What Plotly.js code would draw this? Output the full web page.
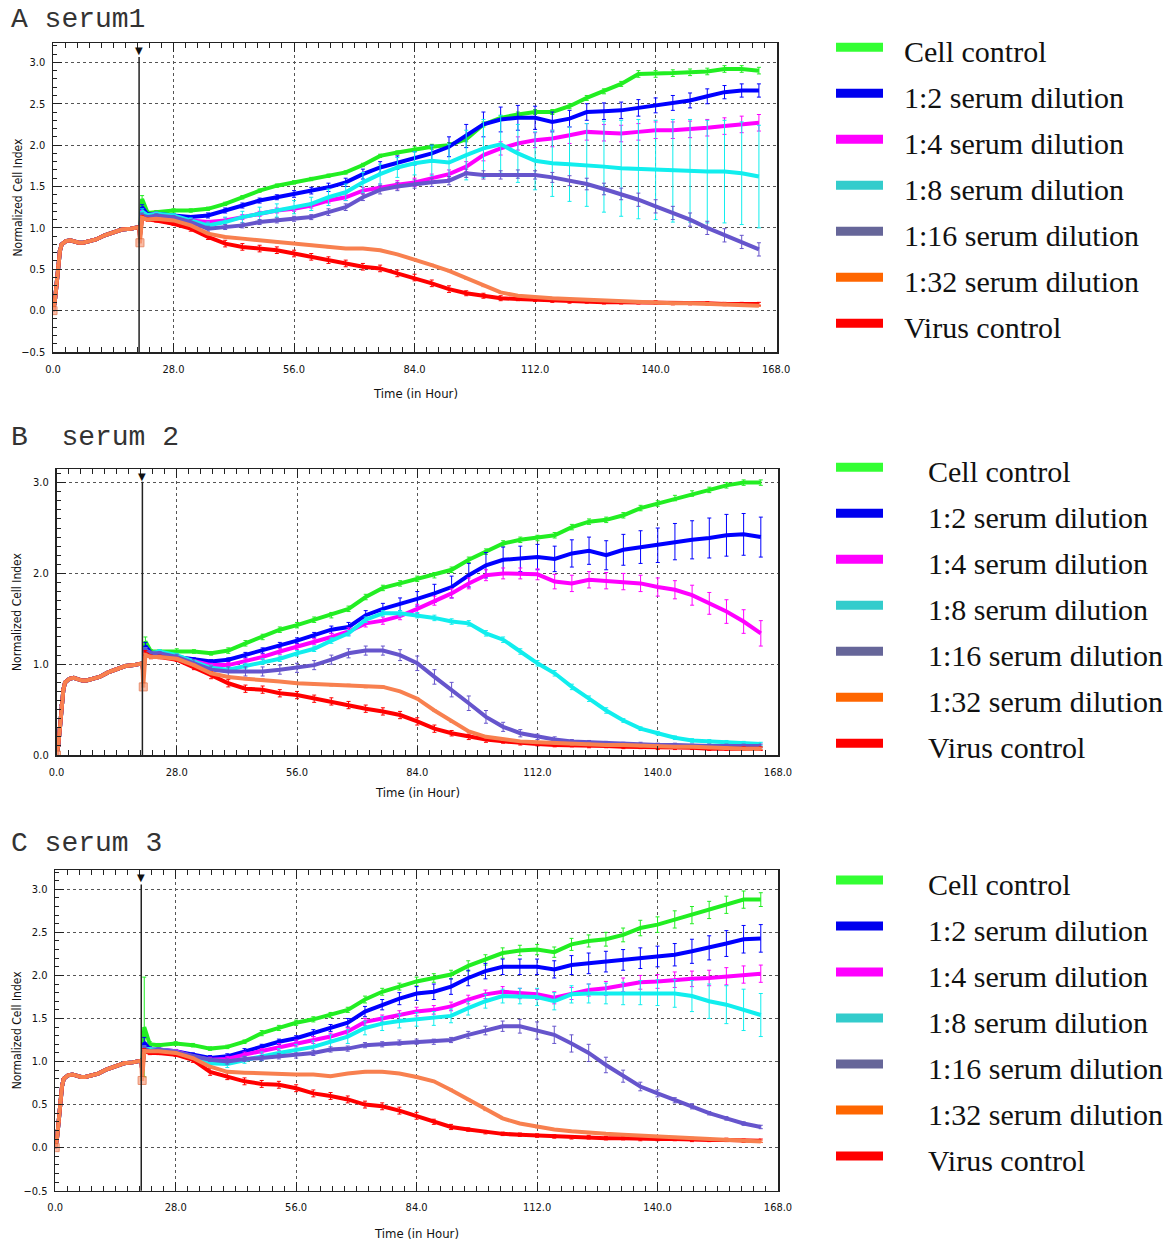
<!DOCTYPE html>
<html><head><meta charset="utf-8">
<script src="https://cdn.plot.ly/plotly-3.0.1.min.js"></script>
<style>html,body{margin:0;padding:0;background:#fff;}#chart{width:1171px;height:1242px;}</style>
</head><body><div id="chart"></div>
<script>
// ---------- DATA ----------
const SERIES = ["Cell control","1:2 serum dilution","1:4 serum dilution","1:8 serum dilution","1:16 serum dilution","1:32 serum dilution","Virus control"];
const PANEL_TITLES = ["A serum1","B\u00a0 serum 2","C serum 3"];
const X_TICKS = [0, 28, 56, 84, 112, 140, 168];
const TREATMENT_TIME = 20;

// shared pre-treatment curve (all wells overlap before 20 h)
const BASE_T = [0, 0.4, 0.8, 1.2, 1.6, 2.0, 3.0, 4.0, 5.0, 6.0, 7.0, 8.0, 10.0, 12.0, 14.0, 16.0, 18.0, 20.0];
const BASE_Y = [0.00, 0.10, 0.30, 0.55, 0.72, 0.80, 0.84, 0.85, 0.83, 0.82, 0.82, 0.83, 0.86, 0.91, 0.95, 0.98, 0.99, 1.01];

// post-treatment time points (h)
const POST_T = [20.2, 20.7, 22,
  24, 28, 32, 36, 40, 44, 48, 52, 56, 60, 64, 68, 72, 76, 80, 84, 88, 92,
  96, 100, 104, 108, 112, 116, 120, 124, 128, 132, 136, 140, 144, 148, 152, 156, 160, 164];

// ---- Panel A (serum 1) ----
const A_CELL  = [0.95,1.35,1.18, 1.19,1.21,1.21,1.23,1.29,1.37,1.45,1.51,1.55,1.59,1.63,1.67,1.76,1.87,1.91,1.95,1.98,2.00, 2.07,2.25,2.33,2.37,2.40,2.40,2.47,2.57,2.65,2.74,2.86,2.86,2.87,2.88,2.89,2.92,2.92,2.90];
const A_D2    = [0.95,1.25,1.16, 1.17,1.15,1.13,1.15,1.21,1.27,1.33,1.37,1.41,1.45,1.49,1.55,1.65,1.73,1.79,1.84,1.90,1.98, 2.11,2.25,2.31,2.33,2.33,2.28,2.32,2.40,2.41,2.42,2.45,2.48,2.51,2.54,2.59,2.64,2.66,2.66];
const A_D4    = [0.92,1.18,1.15, 1.17,1.13,1.09,1.07,1.09,1.13,1.17,1.21,1.23,1.27,1.33,1.37,1.45,1.49,1.52,1.55,1.60,1.65, 1.74,1.88,1.96,2.02,2.06,2.08,2.12,2.16,2.15,2.14,2.16,2.18,2.18,2.19,2.21,2.23,2.25,2.27];
const A_D8    = [0.92,1.20,1.15, 1.17,1.15,1.09,1.03,1.07,1.13,1.17,1.21,1.25,1.29,1.37,1.43,1.55,1.65,1.73,1.78,1.81,1.79, 1.88,1.96,2.01,1.90,1.81,1.78,1.77,1.76,1.74,1.72,1.71,1.70,1.69,1.69,1.68,1.68,1.66,1.62];
const A_D16   = [0.90,1.15,1.13, 1.15,1.13,1.07,0.99,1.01,1.03,1.07,1.09,1.11,1.13,1.19,1.25,1.37,1.46,1.50,1.53,1.55,1.57, 1.66,1.64,1.64,1.65,1.64,1.61,1.57,1.53,1.47,1.41,1.34,1.26,1.18,1.10,1.00,0.91,0.83,0.74];
const A_D32   = [0.82,1.12,1.10, 1.11,1.09,1.03,0.93,0.89,0.87,0.85,0.83,0.81,0.79,0.77,0.75,0.75,0.73,0.68,0.62,0.55,0.48, 0.39,0.30,0.22,0.18,0.16,0.15,0.14,0.13,0.12,0.11,0.10,0.10,0.09,0.09,0.08,0.08,0.07,0.06];
const A_VIRUS = [0.90,1.12,1.10, 1.09,1.05,0.99,0.89,0.81,0.77,0.75,0.73,0.69,0.65,0.61,0.57,0.53,0.51,0.45,0.40,0.33,0.26, 0.21,0.18,0.15,0.14,0.13,0.12,0.11,0.11,0.10,0.10,0.10,0.10,0.09,0.09,0.09,0.08,0.08,0.08];
const A_CELL_ERR  = [0,0.04,0.02, 0.02,0.02,0.02,0.02,0.02,0.02,0.02,0.02,0.02,0.02,0.02,0.02,0.02,0.02,0.02,0.03,0.03,0.03, 0.03,0.03,0.03,0.03,0.03,0.03,0.03,0.03,0.03,0.03,0.04,0.04,0.04,0.04,0.04,0.04,0.04,0.04];
const A_D2_ERR    = [0,0.03,0.02, 0.02,0.02,0.02,0.03,0.03,0.03,0.03,0.03,0.04,0.04,0.05,0.05,0.06,0.07,0.08,0.08,0.10,0.12, 0.14,0.15,0.15,0.15,0.14,0.12,0.10,0.10,0.10,0.10,0.10,0.09,0.09,0.09,0.09,0.08,0.08,0.08];
const A_D4_ERR    = [0,0.03,0.02, 0.02,0.02,0.02,0.02,0.03,0.03,0.03,0.03,0.03,0.03,0.03,0.04,0.04,0.04,0.05,0.05,0.05,0.05, 0.06,0.07,0.08,0.08,0.09,0.10,0.10,0.10,0.10,0.10,0.10,0.10,0.10,0.10,0.10,0.10,0.10,0.10];
const A_D8_ERR    = [0,0.03,0.02, 0.02,0.02,0.03,0.04,0.06,0.07,0.08,0.08,0.08,0.08,0.10,0.10,0.12,0.12,0.12,0.14,0.18,0.22, 0.30,0.35,0.35,0.35,0.35,0.40,0.45,0.50,0.55,0.58,0.60,0.60,0.62,0.62,0.62,0.62,0.62,0.62];
const A_D16_ERR   = [0,0.03,0.02, 0.02,0.02,0.03,0.03,0.03,0.03,0.03,0.03,0.03,0.03,0.04,0.04,0.04,0.05,0.05,0.05,0.05,0.05, 0.05,0.05,0.05,0.05,0.05,0.06,0.06,0.07,0.07,0.07,0.08,0.08,0.08,0.08,0.08,0.08,0.08,0.08];
const A_D32_ERR   = [0,0.02,0.01, 0.01,0.01,0.01,0.01,0.01,0.01,0.01,0.01,0.01,0.01,0.01,0.01,0.01,0.01,0.01,0.01,0.01,0.01, 0.01,0.01,0.01,0.01,0.01,0.01,0.01,0.01,0.01,0.01,0.01,0.01,0.01,0.01,0.01,0.01,0.01,0.01];
const A_VIRUS_ERR = [0,0.03,0.02, 0.02,0.02,0.03,0.03,0.04,0.04,0.04,0.04,0.04,0.04,0.04,0.04,0.04,0.04,0.04,0.04,0.04,0.04, 0.03,0.03,0.03,0.02,0.02,0.02,0.02,0.02,0.02,0.02,0.02,0.02,0.02,0.02,0.02,0.02,0.02,0.02];

// ---- Panel B (serum 2) ----
const B_CELL  = [0.95,1.25,1.14, 1.14,1.15,1.14,1.12,1.15,1.23,1.30,1.38,1.43,1.49,1.54,1.61,1.74,1.84,1.89,1.94,1.98,2.04, 2.15,2.24,2.33,2.37,2.39,2.42,2.51,2.57,2.59,2.64,2.72,2.77,2.83,2.88,2.92,2.97,3.00,3.00];
const B_D2    = [0.95,1.20,1.12, 1.12,1.08,1.05,1.03,1.05,1.10,1.15,1.21,1.26,1.32,1.38,1.41,1.54,1.61,1.66,1.72,1.78,1.85, 1.98,2.09,2.15,2.16,2.18,2.16,2.22,2.25,2.20,2.26,2.29,2.31,2.35,2.37,2.39,2.42,2.43,2.40];
const B_D4    = [0.92,1.15,1.12, 1.12,1.08,1.03,0.99,0.99,1.03,1.08,1.14,1.19,1.25,1.30,1.36,1.45,1.48,1.53,1.61,1.70,1.78, 1.89,1.98,2.00,2.00,1.99,1.91,1.89,1.93,1.92,1.91,1.89,1.85,1.82,1.76,1.67,1.58,1.47,1.34];
const B_D8    = [0.92,1.15,1.12, 1.14,1.10,1.03,0.96,0.94,0.98,1.03,1.06,1.12,1.17,1.26,1.34,1.49,1.56,1.56,1.54,1.51,1.47, 1.45,1.34,1.27,1.14,1.01,0.90,0.75,0.62,0.49,0.38,0.29,0.24,0.19,0.16,0.15,0.14,0.13,0.12];
const B_D16   = [0.90,1.15,1.12, 1.12,1.08,1.01,0.94,0.92,0.92,0.92,0.94,0.96,0.99,1.05,1.12,1.15,1.15,1.10,1.01,0.86,0.72, 0.57,0.42,0.31,0.24,0.20,0.17,0.15,0.14,0.13,0.12,0.12,0.11,0.11,0.10,0.10,0.10,0.10,0.10];
const B_D32   = [0.75,1.10,1.08, 1.08,1.06,0.99,0.90,0.86,0.84,0.83,0.81,0.79,0.78,0.77,0.77,0.75,0.75,0.70,0.62,0.49,0.37, 0.26,0.20,0.17,0.15,0.14,0.13,0.12,0.12,0.11,0.11,0.10,0.10,0.09,0.09,0.08,0.08,0.07,0.07];
const B_VIRUS = [0.90,1.12,1.08, 1.08,1.05,0.97,0.88,0.79,0.73,0.72,0.68,0.66,0.62,0.59,0.55,0.51,0.48,0.44,0.37,0.29,0.24, 0.20,0.17,0.15,0.13,0.12,0.11,0.11,0.10,0.10,0.09,0.09,0.08,0.08,0.08,0.07,0.07,0.07,0.07];
const B_CELL_ERR  = [0,0.05,0.02, 0.02,0.02,0.02,0.02,0.03,0.03,0.03,0.03,0.03,0.03,0.03,0.03,0.03,0.03,0.03,0.03,0.03,0.03, 0.03,0.03,0.03,0.03,0.03,0.03,0.03,0.03,0.03,0.03,0.03,0.03,0.03,0.03,0.03,0.03,0.03,0.03];
const B_D2_ERR    = [0,0.04,0.02, 0.02,0.02,0.02,0.02,0.02,0.03,0.03,0.03,0.03,0.03,0.04,0.05,0.05,0.06,0.07,0.08,0.10,0.12, 0.13,0.14,0.14,0.14,0.14,0.14,0.15,0.15,0.16,0.17,0.18,0.19,0.20,0.21,0.22,0.23,0.23,0.22];
const B_D4_ERR    = [0,0.03,0.02, 0.02,0.02,0.02,0.02,0.03,0.03,0.03,0.03,0.03,0.03,0.04,0.04,0.04,0.04,0.04,0.05,0.05,0.05, 0.06,0.06,0.06,0.06,0.06,0.08,0.09,0.09,0.09,0.09,0.09,0.10,0.10,0.11,0.12,0.13,0.13,0.14];
const B_D8_ERR    = [0,0.03,0.02, 0.02,0.02,0.02,0.03,0.03,0.03,0.03,0.03,0.03,0.03,0.03,0.03,0.03,0.03,0.03,0.03,0.03,0.03, 0.03,0.03,0.03,0.03,0.03,0.03,0.03,0.03,0.03,0.02,0.02,0.02,0.02,0.02,0.02,0.02,0.02,0.02];
const B_D16_ERR   = [0,0.03,0.02, 0.02,0.03,0.04,0.04,0.05,0.05,0.05,0.05,0.05,0.05,0.05,0.05,0.05,0.05,0.06,0.08,0.08,0.08, 0.08,0.07,0.05,0.04,0.03,0.03,0.02,0.02,0.02,0.02,0.02,0.02,0.02,0.02,0.02,0.02,0.02,0.02];
const B_D32_ERR   = [0,0.02,0.01, 0.01,0.01,0.01,0.01,0.01,0.01,0.01,0.01,0.01,0.01,0.01,0.01,0.01,0.01,0.01,0.01,0.01,0.01, 0.01,0.01,0.01,0.01,0.01,0.01,0.01,0.01,0.01,0.01,0.01,0.01,0.01,0.01,0.01,0.01,0.01,0.01];
const B_VIRUS_ERR = [0,0.03,0.02, 0.02,0.02,0.03,0.04,0.04,0.04,0.04,0.04,0.04,0.04,0.04,0.04,0.04,0.04,0.04,0.04,0.04,0.03, 0.03,0.03,0.02,0.02,0.02,0.02,0.02,0.02,0.02,0.02,0.02,0.02,0.02,0.02,0.02,0.02,0.02,0.02];

// ---- Panel C (serum 3) ----
const C_CELL  = [0.95,1.40,1.20, 1.19,1.21,1.19,1.15,1.17,1.23,1.33,1.39,1.45,1.49,1.54,1.60,1.72,1.81,1.87,1.93,1.97,2.01, 2.11,2.18,2.26,2.29,2.30,2.27,2.36,2.40,2.42,2.47,2.55,2.59,2.65,2.70,2.76,2.82,2.88,2.88];
const C_D2    = [0.92,1.22,1.14, 1.14,1.12,1.08,1.04,1.06,1.12,1.17,1.23,1.27,1.33,1.39,1.45,1.58,1.66,1.73,1.79,1.81,1.87, 1.97,2.05,2.10,2.10,2.10,2.07,2.12,2.14,2.16,2.18,2.20,2.22,2.24,2.28,2.32,2.37,2.42,2.43];
const C_D4    = [0.90,1.15,1.14, 1.14,1.12,1.06,1.02,1.03,1.08,1.12,1.17,1.21,1.25,1.29,1.35,1.46,1.50,1.54,1.58,1.60,1.64, 1.72,1.78,1.81,1.79,1.78,1.74,1.79,1.83,1.85,1.89,1.92,1.93,1.95,1.96,1.97,1.99,2.01,2.02];
const C_D8    = [0.90,1.15,1.14, 1.14,1.11,1.04,0.98,0.97,1.02,1.06,1.10,1.14,1.17,1.23,1.29,1.39,1.44,1.47,1.49,1.50,1.53, 1.62,1.70,1.76,1.76,1.75,1.70,1.78,1.79,1.79,1.79,1.80,1.80,1.79,1.76,1.70,1.66,1.60,1.54];
const C_D16   = [0.90,1.15,1.12, 1.14,1.11,1.06,1.02,1.00,1.03,1.04,1.06,1.07,1.10,1.14,1.15,1.19,1.20,1.22,1.23,1.23,1.25, 1.31,1.36,1.41,1.41,1.36,1.31,1.21,1.10,0.96,0.83,0.71,0.63,0.55,0.48,0.40,0.34,0.28,0.24];
const C_D32   = [0.78,1.12,1.12, 1.12,1.10,1.04,0.94,0.88,0.87,0.86,0.86,0.85,0.85,0.83,0.86,0.88,0.88,0.86,0.82,0.77,0.67, 0.56,0.44,0.34,0.28,0.24,0.21,0.19,0.17,0.16,0.15,0.14,0.13,0.12,0.11,0.10,0.09,0.08,0.07];
const C_VIRUS = [0.90,1.12,1.10, 1.10,1.08,1.02,0.88,0.83,0.77,0.74,0.73,0.69,0.63,0.60,0.56,0.50,0.48,0.43,0.37,0.30,0.24, 0.21,0.18,0.16,0.15,0.14,0.13,0.12,0.12,0.11,0.11,0.10,0.10,0.10,0.09,0.09,0.09,0.08,0.08];
const C_CELL_ERR  = [0,0.58,0.03, 0.02,0.02,0.02,0.02,0.02,0.02,0.03,0.03,0.03,0.03,0.03,0.03,0.04,0.04,0.04,0.05,0.05,0.05, 0.06,0.06,0.06,0.06,0.06,0.06,0.07,0.07,0.08,0.08,0.09,0.09,0.10,0.10,0.10,0.10,0.10,0.08];
const C_D2_ERR    = [0,0.06,0.03, 0.02,0.02,0.02,0.03,0.03,0.03,0.03,0.03,0.03,0.04,0.04,0.05,0.06,0.06,0.07,0.08,0.09,0.09, 0.09,0.09,0.09,0.09,0.09,0.10,0.11,0.12,0.12,0.12,0.12,0.12,0.13,0.14,0.14,0.15,0.16,0.16];
const C_D4_ERR    = [0,0.03,0.02, 0.02,0.02,0.02,0.03,0.03,0.03,0.03,0.04,0.04,0.04,0.04,0.04,0.04,0.04,0.05,0.05,0.05,0.05, 0.05,0.05,0.06,0.06,0.06,0.07,0.07,0.07,0.08,0.08,0.08,0.08,0.09,0.09,0.09,0.10,0.10,0.10];
const C_D8_ERR    = [0,0.03,0.02, 0.02,0.02,0.03,0.03,0.04,0.04,0.05,0.05,0.06,0.07,0.08,0.08,0.08,0.08,0.08,0.08,0.08,0.08, 0.08,0.08,0.08,0.09,0.10,0.10,0.10,0.11,0.12,0.13,0.14,0.15,0.16,0.18,0.20,0.22,0.24,0.25];
const C_D16_ERR   = [0,0.03,0.02, 0.02,0.02,0.02,0.02,0.03,0.03,0.03,0.03,0.03,0.03,0.03,0.03,0.03,0.03,0.03,0.03,0.03,0.03, 0.04,0.05,0.06,0.08,0.10,0.10,0.10,0.10,0.09,0.07,0.05,0.04,0.03,0.03,0.02,0.02,0.02,0.02];
const C_D32_ERR   = [0,0.02,0.01, 0.01,0.01,0.01,0.01,0.01,0.01,0.01,0.01,0.01,0.01,0.01,0.01,0.01,0.01,0.01,0.01,0.01,0.01, 0.01,0.01,0.01,0.01,0.01,0.01,0.01,0.01,0.01,0.01,0.01,0.01,0.01,0.01,0.01,0.01,0.01,0.01];
const C_VIRUS_ERR = [0,0.03,0.02, 0.02,0.02,0.03,0.04,0.04,0.04,0.04,0.04,0.04,0.04,0.04,0.04,0.04,0.04,0.04,0.04,0.03,0.03, 0.02,0.02,0.02,0.02,0.02,0.02,0.02,0.02,0.02,0.02,0.02,0.02,0.02,0.02,0.02,0.02,0.02,0.02];

// ---------- STYLE ----------
const LINE_COLORS   = ["#22ee22","#0000ff","#ff00ff","#11eeee","#6655cc","#f8804f","#ff0000"];
const LEGEND_COLORS = ["#33ff33","#0000ee","#ff00ff","#33cccc","#666699","#ff6600","#ff0000"];
const DRAW_ORDER = [0,1,2,3,4,6,5];

const W = 1171, H = 1242;
const px = p => p / W, py = p => 1 - p / H;

const PANELS = [
  {vals:[A_CELL,A_D2,A_D4,A_D8,A_D16,A_D32,A_VIRUS], errs:[A_CELL_ERR,A_D2_ERR,A_D4_ERR,A_D8_ERR,A_D16_ERR,A_D32_ERR,A_VIRUS_ERR],
   box:{l:53,r:777,t:43,b:352}, yr:[-0.5,3.234], xr:[0,168.2], ydt:0.5, titleY:20, legTop:47.3, legTextX:902, xTitleY:393},
  {vals:[B_CELL,B_D2,B_D4,B_D8,B_D16,B_D32,B_VIRUS], errs:[B_CELL_ERR,B_D2_ERR,B_D4_ERR,B_D8_ERR,B_D16_ERR,B_D32_ERR,B_VIRUS_ERR],
   box:{l:56.5,r:778,t:469,b:755}, yr:[0,3.15], xr:[0,168], ydt:1, titleY:437, legTop:467.3, legTextX:926, xTitleY:793},
  {vals:[C_CELL,C_D2,C_D4,C_D8,C_D16,C_D32,C_VIRUS], errs:[C_CELL_ERR,C_D2_ERR,C_D4_ERR,C_D8_ERR,C_D16_ERR,C_D32_ERR,C_VIRUS_ERR],
   box:{l:55.2,r:778,t:870,b:1190.7}, yr:[-0.5,3.224], xr:[0,168], ydt:0.5, titleY:843, legTop:880, legTextX:926, xTitleY:1233}
];

const TICK_FONT = {family:"Liberation Sans Narrow, DejaVu Sans Condensed, Liberation Sans, Arial", size:11, color:"#111"};
const traces = [], shapes = [], annotations = [];
const layout = {width:W, height:H, margin:{l:0,r:0,t:0,b:0}, paper_bgcolor:"#fff", plot_bgcolor:"#fff", showlegend:false};

PANELS.forEach((P, pi) => {
  const sfx = pi === 0 ? "" : String(pi + 1);
  const xa = "x" + sfx, ya = "y" + sfx;
  const b = P.box;
  layout["xaxis" + sfx] = {
    domain:[px(b.l), px(b.r)], anchor:ya, range:P.xr, tickvals:X_TICKS, tickformat:".1f",
    ticks:"inside", ticklen:9, tickwidth:1, tickcolor:"#222", showline:true, linecolor:"#222", linewidth:1.5, mirror:"ticks",
    showgrid:true, gridcolor:"#555", griddash:"dot", gridwidth:1, zeroline:false, tickfont:TICK_FONT, ticklabelstandoff:6,
    minor:{dtick:2.8, tick0:0, ticks:"inside", ticklen:5, tickcolor:"#222", showgrid:false}
  };
  layout["yaxis" + sfx] = {
    domain:[py(b.b), py(b.t)], anchor:xa, range:P.yr, dtick:P.ydt, tick0:0, tickformat:".1f",
    ticks:"inside", ticklen:9, tickwidth:1, tickcolor:"#222", showline:true, linecolor:"#222", linewidth:1.5, mirror:true,
    showgrid:true, gridcolor:"#555", griddash:"dot", gridwidth:1, zeroline:false, tickfont:TICK_FONT, ticklabelstandoff:4,
    minor:{dtick:0.1, tick0:0, ticks:"inside", ticklen:4, tickcolor:"#222", showgrid:false}
  };
  DRAW_ORDER.forEach(si => {
    const x = BASE_T.concat(POST_T);
    const y = BASE_Y.concat(P.vals[si]);
    const e = BASE_T.map(() => 0).concat(P.errs[si]);
    const isOrange = si === 5;
    const msize = x.map((_, k) => (isOrange && (k === 0 || k === BASE_T.length)) ? 8 : 0);
    traces.push({
      type:"scatter", mode: isOrange ? "lines+markers" : "lines", x, y, xaxis:xa, yaxis:ya, name:SERIES[si],
      line:{color:LINE_COLORS[si], width:4},
      marker:{symbol:"square", size:msize, color:"#f9a080", line:{color:"#e06030", width:1}},
      error_y:{type:"data", array:e, visible:true, color:LINE_COLORS[si], thickness:1, width:2},
      hoverinfo:"skip"
    });
  });
  // treatment (virus addition) marker
  shapes.push({type:"line", xref:xa, yref:ya + " domain", x0:TREATMENT_TIME, x1:TREATMENT_TIME, y0:0, y1:0.955, line:{color:"#222", width:1.5}});
  annotations.push({xref:xa, yref:ya + " domain", x:TREATMENT_TIME, y:1, yanchor:"top", text:"▼", showarrow:false, font:{size:10, color:"#111", family:"DejaVu Sans"}});
  // axis titles
  annotations.push({xref:"paper", yref:"paper", x:px((b.l + b.r) / 2), y:py(P.xTitleY), text:"Time (in Hour)", showarrow:false, xanchor:"center", yanchor:"middle",
    font:{family:TICK_FONT.family, size:13, color:"#111"}});
  annotations.push({xref:"paper", yref:"paper", x:px(17), y:py((b.t + b.b) / 2), text:"Normalized Cell Index", textangle:-90, showarrow:false, xanchor:"center", yanchor:"middle",
    font:{family:TICK_FONT.family, size:12, color:"#111"}});
  // panel title
  annotations.push({xref:"paper", yref:"paper", x:px(9), y:py(P.titleY), text:PANEL_TITLES[pi], showarrow:false, xanchor:"left", yanchor:"middle",
    font:{family:"Liberation Mono, Courier New, monospace", size:28, color:"#333"}});
  // legend
  SERIES.forEach((name, si) => {
    const ry = P.legTop + si * 46;
    shapes.push({type:"rect", xref:"paper", yref:"paper", x0:px(836), x1:px(883), y0:py(ry + 4.5), y1:py(ry - 4.5), fillcolor:LEGEND_COLORS[si], line:{width:0}});
    annotations.push({xref:"paper", yref:"paper", x:px(P.legTextX), y:py(ry + 4), text:name, showarrow:false, xanchor:"left", yanchor:"middle",
      font:{family:"Liberation Serif, Times New Roman, serif", size:30, color:"#111"}});
  });
});
layout.shapes = shapes;
layout.annotations = annotations;
Plotly.newPlot("chart", traces, layout, {displayModeBar:false, staticPlot:true});
</script>
</body></html>
